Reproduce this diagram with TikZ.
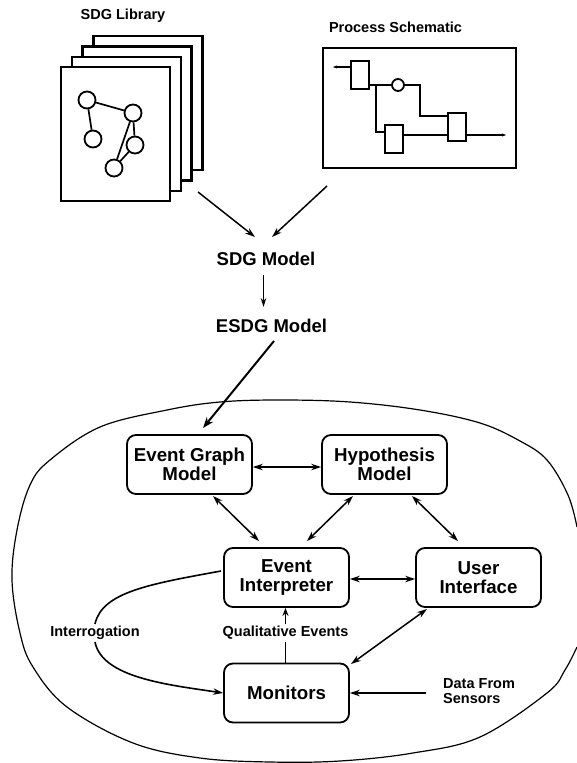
\documentclass[tikz,border=0pt]{standalone}
\usepackage{fontspec}
\setmainfont{Liberation Sans}
\usetikzlibrary{arrows.meta}
\tikzset{
  modelbox/.style={draw,line width=1.8pt,rounded corners=9pt,minimum width=125pt,minimum height=59pt,inner sep=0pt,align=center,font=\fontsize{18.7}{19}\selectfont\bfseries},
  sheet/.style={draw,line width=2.8pt,fill=white,minimum width=109pt,minimum height=134pt,inner sep=0pt},
  gnode/.style={circle,draw,line width=1.8pt,fill=white,minimum size=17pt,inner sep=0pt},
  unit/.style={draw,line width=1.8pt,fill=white,minimum width=18pt,minimum height=28pt,inner sep=0pt},
  smalllabel/.style={font=\fontsize{14.5}{15}\selectfont\bfseries,inner sep=2pt},
  biglabel/.style={font=\fontsize{18.5}{19}\selectfont\bfseries,inner sep=0pt},
  conn/.style={line width=1.5pt},
  biarrow/.style={conn,{Stealth[length=10pt,width=6.5pt]}-{Stealth[length=10pt,width=6.5pt]}},
  onearrow/.style={conn,-{Stealth[length=10pt,width=6.5pt]}},
  wire/.style={line width=1.5pt}
}
\begin{document}
\begin{tikzpicture}[x=1pt,y=-1pt]
\useasboundingbox (0,0) rectangle (577,763);
% outer boundary
\draw[line width=1.2pt] plot[smooth,tension=0.6] coordinates {(577,527) (568,495) (547,460) (520,441) (480,423) (420,410) (350,402) (280,400) (220,402) (167,410) (100,427) (50,460) (30,485) (17,530) (12,580) (20,633) (33,667) (67,707) (133,743) (200,758) (270,762) (340,761) (413,753) (480,737) (547,693) (565,670) (577,647)};
% library
\node[sheet] (s4) at (148,103) {};
\node[sheet] (s3) at (137,113.5) {};
\node[sheet] (s2) at (126.5,124) {};
\node[sheet] (s1) at (115.5,134) {};
\node[gnode] (g1) at (87,100) {};
\node[gnode] (g2) at (93,139) {};
\node[gnode] (g3) at (133,113) {};
\node[gnode] (g4) at (135,145) {};
\node[gnode] (g5) at (114,168) {};
\draw[wire,line width=1.7pt] (g1)--(g2) (g1)--(g3) (g3)--(g4) (g3)--(g5) (g4)--(g5);
\node[smalllabel] (lib) at (123,16) {SDG Library};
% schematic
\node[draw,line width=2.8pt,minimum width=193pt,minimum height=120pt,inner sep=0pt] (sch) at (419.5,108) {};
\node[smalllabel] (schl) at (395.5,27) {Process Schematic};
\node[unit] (ua) at (360,75) {};
\node[unit] (ub) at (394,139) {};
\node[unit] (uc) at (457,127) {};
\node[circle,draw,line width=1.8pt,minimum size=12pt,inner sep=0pt] (uv) at (398,85) {};
\coordinate (wl) at (333,67);
\coordinate (wr) at (506,135);
\coordinate (j) at (376,85);
\draw[wire,-{Stealth[length=4pt,width=3pt]}] (ua.west|-wl) -- (wl);
\draw[wire] (ua.east|-uv) -- (uv);
\draw[wire] (uv) -| (420,116) -- (uc.west|-0,116);
\draw[wire] (j) |- (ub.west|-0,132);
\draw[wire] (ub.east|-wr) -- (uc.west|-wr);
\draw[wire,-{Stealth[length=4pt,width=3pt]}] (uc.east|-wr) -- (wr);
% centre labels
\node[biglabel] (sdg) at (266,259) {SDG Model};
\node[biglabel] (esdg) at (271.5,326) {ESDG Model};
\coordinate (a1) at (198,192);
\coordinate (a2) at (255,237);
\coordinate (a3) at (327,186);
\coordinate (a4) at (272,237);
\draw[onearrow] (a1) -- (a2);
\draw[onearrow] (a3) -- (a4);
\coordinate (b1) at (263.5,275);
\coordinate (b2) at (263.5,307);
\draw[line width=1.1pt,-{Stealth[length=9pt,width=5.5pt]}] (b1) -- (b2);
\coordinate (c1) at (274,341);
\coordinate (c2) at (203,428);
\draw[line width=2pt,-{Stealth[length=11pt,width=8pt]}] (c1) -- (c2);
% inner boxes
\node[modelbox] (eg) at (189.5,464.5) {Event Graph\\Model};
\node[modelbox] (hy) at (384.5,464.5) {Hypothesis\\Model};
\node[modelbox] (ei) at (286.5,577.5) {Event\\Interpreter};
\node[modelbox] (ui) at (478.5,577.5) {User\\Interface};
\node[modelbox] (mo) at (286.5,693) {Monitors};
\draw[biarrow] (eg.east|-0,467) -- (hy.west|-0,467);
\draw[biarrow] (ei.east|-0,579) -- (ui.west|-0,579);
\coordinate (d1) at (213,496); \coordinate (d2) at (259,541);
\coordinate (e1) at (353,496); \coordinate (e2) at (307,541);
\coordinate (f1) at (412,496); \coordinate (f2) at (458,541);
\coordinate (h1) at (427,609); \coordinate (h2) at (351,664);
\draw[biarrow] (d1) -- (d2);
\draw[biarrow] (e1) -- (e2);
\draw[biarrow] (f1) -- (f2);
\draw[biarrow] (h1) -- (h2);
\coordinate (i1) at (426,693);
\draw[onearrow] (i1) -- (mo.east|-i1);
\node[smalllabel,align=left,anchor=west,inner sep=0pt] (data) at (443,691.5) {Data From\\Sensors};
\node[smalllabel] (qe) at (285.5,633) {Qualitative Events};
\draw[conn] (mo.north-|qe.south) -- (qe.south);
\draw[conn,-{Stealth[length=8pt,width=6pt]}] (qe.north) -- (ei.south-|qe.north);
\node[smalllabel] (int) at (95,633) {Interrogation};
\coordinate (k1) at (221,571);
\draw[line width=1.6pt] (k1) .. controls (150,584) and (102,592) .. (int.north);
\draw[line width=1.6pt,-{Stealth[length=10pt,width=6.5pt]}] (int.south) .. controls (102,678) and (170,685) .. (mo.west);
\end{tikzpicture}
\end{document}
